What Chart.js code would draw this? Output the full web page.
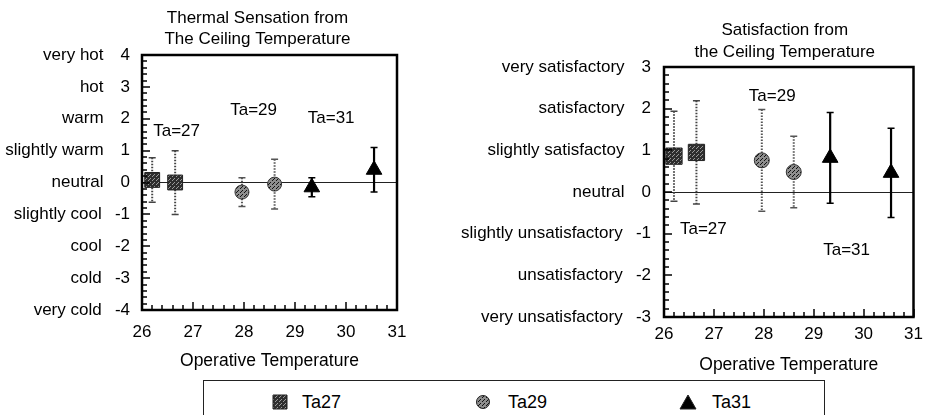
<!DOCTYPE html>
<html>
<head>
<meta charset="utf-8">
<script src="https://cdn.jsdelivr.net/npm/chart.js@4"></script>
<style>
    body { margin: 0; background: #fff; width: 926px; height: 415px; overflow: hidden; position: relative;
           font-family: "Liberation Sans", Arial, sans-serif; }
    #sensation { position: absolute; left: 0; top: 0; }
    #satisfaction { position: absolute; left: 460px; top: 0; }
    #legend { position: absolute; left: 203px; top: 380px; width: 622px; height: 45px;
              border: 1px solid #222; box-sizing: border-box; }
    .item { position: absolute; top: 11px; font-size: 18px; line-height: 20px; color: #000; }
    .item canvas { position: absolute; top: 1px; }
</style>
</head>
<body>
<canvas id="sensation" width="460" height="375"></canvas>
<canvas id="satisfaction" width="466" height="376"></canvas>
<div id="legend">
    <div class="item" style="left:98px"><canvas id="lg27" width="18" height="18" style="left:-31px"></canvas>Ta27</div>
    <div class="item" style="left:304px"><canvas id="lg29" width="18" height="18" style="left:-34px"></canvas>Ta29</div>
    <div class="item" style="left:508px"><canvas id="lg31" width="18" height="18" style="left:-33px"></canvas>Ta31</div>
</div>
<script>
// operative temperature of each test condition
const ta27Op = [26.2, 26.65];
const ta29Op = [27.96, 28.6];
const ta31Op = [29.33, 30.55];

// thermal sensation votes (mean and standard deviation)
const ta27Sens = [0.08, 0.0];
const ta27SensSd = [0.7, 1.0];
const ta29Sens = [-0.3, -0.05];
const ta29SensSd = [0.45, 0.78];
const ta31Sens = [-0.15, 0.4];
const ta31SensSd = [0.3, 0.7];

// satisfaction votes (mean and standard deviation)
const ta27Sat = [0.86, 0.95];
const ta27SatSd = [1.08, 1.24];
const ta29Sat = [0.76, 0.48];
const ta29SatSd = [1.22, 0.86];
const ta31Sat = [0.82, 0.46];
const ta31SatSd = [1.09, 1.07];

// axis scales
const opTicks = [26, 27, 28, 29, 30, 31];
const sensationTicks = [4, 3, 2, 1, 0, -1, -2, -3, -4];
const sensationLabels = ["very hot", "hot", "warm", "slightly warm", "neutral", "slightly cool", "cool", "cold", "very cold"];
const satisfactionTicks = [3, 2, 1, 0, -1, -2, -3];
const satisfactionLabels = ["very satisfactory", "satisfactory", "slightly satisfactoy", "neutral",
    "slightly unsatisfactory", "unsatisfactory", "very unsatisfactory"];

// "Ta=.." notes inside the plots
const noteTexts = ["Ta=27", "Ta=29", "Ta=31"];
const sensNoteX = [26.22, 27.73, 29.25];
const sensNoteY = [1.61, 2.27, 2.02];
const satNoteX = [26.32, 27.7, 29.19];
const satNoteY = [-0.89, 2.3, -1.41];

const FONT = "Liberation Sans";

// speckled fills like the printed markers
function speckle(bg, fg) {
    const c = document.createElement("canvas");
    c.width = c.height = 4;
    const g = c.getContext("2d");
    g.fillStyle = bg;
    g.fillRect(0, 0, 4, 4);
    g.fillStyle = fg;
    g.fillRect(0, 0, 1, 1);
    g.fillRect(2, 2, 1, 1);
    g.fillRect(1, 3, 1, 1);
    return g.createPattern(c, "repeat");
}
const squareFill = speckle("#2e2e2e", "#9a9a9a");
const circleFill = speckle("#8e8e8e", "#111");

function points(xs, ys) {
    return xs.map((x, i) => ({ x: x, y: ys[i] }));
}

function datasets(s27, sd27, s29, sd29, s31, sd31, big) {
    return [
        { label: "Ta27", data: points(ta27Op, s27), sd: sd27, pointStyle: "rect",
          pointRadius: big ? 11.5 : 10.5, backgroundColor: squareFill, borderColor: "#222", borderWidth: 1,
          barColor: "#444", barDash: [1.5, 1.5] },
        { label: "Ta29", data: points(ta29Op, s29), sd: sd29, pointStyle: "circle",
          pointRadius: big ? 7.5 : 7, backgroundColor: circleFill, borderColor: "#333", borderWidth: 1,
          barColor: "#555", barDash: [1.5, 1.5] },
        { label: "Ta31", data: points(ta31Op, s31), sd: sd31, pointStyle: "triangle",
          pointRadius: 9, backgroundColor: "#000", borderColor: "#000", borderWidth: 1,
          barColor: "#000", barDash: [] },
    ];
}

// error bars, frame, inward ticks, titles and notes
const decor = {
    id: "decor",
    beforeDatasetsDraw(chart) {
        const ctx = chart.ctx;
        const xs = chart.scales.x, ys = chart.scales.y;
        chart.data.datasets.forEach((ds) => {
            ds.data.forEach((p, i) => {
                const x = xs.getPixelForValue(p.x);
                const top = ys.getPixelForValue(p.y + ds.sd[i]);
                const bot = ys.getPixelForValue(p.y - ds.sd[i]);
                ctx.save();
                ctx.strokeStyle = ds.barColor;
                ctx.lineWidth = ds.barDash.length ? 2 : 2.2;
                ctx.setLineDash(ds.barDash);
                ctx.beginPath();
                ctx.moveTo(x, top);
                ctx.lineTo(x, bot);
                ctx.stroke();
                ctx.setLineDash([]);
                ctx.lineWidth = 1.5;
                ctx.beginPath();
                ctx.moveTo(x - 3.5, top);
                ctx.lineTo(x + 3.5, top);
                ctx.moveTo(x - 3.5, bot);
                ctx.lineTo(x + 3.5, bot);
                ctx.stroke();
                ctx.restore();
            });
        });
    },
    afterDraw(chart, args, opts) {
        const ctx = chart.ctx;
        const a = chart.chartArea;
        const xs = chart.scales.x, ys = chart.scales.y;
        ctx.save();
        ctx.setLineDash([]);
        ctx.strokeStyle = "#000";
        ctx.lineWidth = 1.5;
        // minor and major ticks pointing inward, every 0.2
        const yCount = (opts.yMax - opts.yMin) * 5;
        for (let i = 0; i <= yCount; i++) {
            const y = Math.round(ys.getPixelForValue(opts.yMin + i / 5));
            const len = i % 5 === 0 ? 8 : 5;
            ctx.beginPath();
            ctx.moveTo(a.left, y);
            ctx.lineTo(a.left + len, y);
            ctx.stroke();
        }
        const xCount = (opts.xMax - opts.xMin) * 5;
        for (let i = 0; i <= xCount; i++) {
            const x = Math.round(xs.getPixelForValue(opts.xMin + i / 5));
            const len = i % 5 === 0 ? 8 : 5;
            ctx.beginPath();
            ctx.moveTo(x, a.bottom);
            ctx.lineTo(x, a.bottom - len);
            ctx.stroke();
        }
        // frame
        ctx.lineWidth = 2.5;
        ctx.strokeRect(a.left, a.top, a.right - a.left, a.bottom - a.top);
        // title
        ctx.fillStyle = "#000";
        ctx.font = "17px '" + FONT + "'";
        ctx.textAlign = "center";
        ctx.textBaseline = "middle";
        const cx = (a.left + a.right) / 2 + opts.titleShift;
        opts.title.forEach((line, i) => {
            ctx.fillText(line, cx, opts.titleY[i]);
        });
        // notes
        ctx.textAlign = "left";
        noteTexts.forEach((t, i) => {
            ctx.fillText(t, xs.getPixelForValue(opts.noteX[i]), ys.getPixelForValue(opts.noteY[i]));
        });
        ctx.restore();
    },
};

function makeChart(id, cfg) {
    const yMin = Math.min(...cfg.yTicks);
    const yMax = Math.max(...cfg.yTicks);
    const xMin = Math.min(...opTicks);
    const xMax = Math.max(...opTicks);
    return new Chart(document.getElementById(id), {
        type: "scatter",
        data: { datasets: cfg.datasets },
        plugins: [decor],
        options: {
            responsive: false,
            animation: false,
            layout: { padding: cfg.padding },
            plugins: {
                legend: { display: false },
                tooltip: { enabled: false },
                decor: { title: cfg.title, titleY: cfg.titleY, titleShift: cfg.titleShift,
                         noteX: cfg.noteX, noteY: cfg.noteY,
                         xMin: xMin, xMax: xMax, yMin: yMin, yMax: yMax },
            },
            scales: {
                x: {
                    type: "linear",
                    min: xMin,
                    max: xMax,
                    afterBuildTicks: (s) => { s.ticks = opTicks.map((v) => ({ value: v })); },
                    ticks: { color: "#000", font: { family: FONT, size: 17 }, padding: cfg.xPad },
                    grid: { display: false },
                    border: { display: false },
                    title: { display: true, text: "Operative Temperature", color: "#000",
                             font: { family: FONT, size: 17.5 }, padding: { top: 2, bottom: cfg.titlePad } },
                    afterFit: (s) => { s.height = cfg.xHeight; },
                },
                y: {
                    min: yMin,
                    max: yMax,
                    afterBuildTicks: (s) => { s.ticks = cfg.yTicks.map((v) => ({ value: v })); },
                    ticks: {
                        color: "#000",
                        font: { family: FONT, size: 17 },
                        padding: cfg.yPad,
                        callback: (v) => cfg.yLabels[cfg.yTicks.indexOf(v)] + (v < 0 ? "\u2002 " : "\u2002\u2002") + v,
                    },
                    grid: {
                        drawTicks: false,
                        lineWidth: 1,
                        color: (c) => (c.tick && c.tick.value === 0 ? "#222" : "rgba(0,0,0,0)"),
                    },
                    border: { display: false },
                    afterFit: (s) => { s.width = cfg.yWidth; },
                },
            },
        },
    });
}

makeChart("sensation", {
    datasets: datasets(ta27Sens, ta27SensSd, ta29Sens, ta29SensSd, ta31Sens, ta31SensSd, false),
    padding: { top: 55, right: 63, bottom: 0, left: 0 },
    yTicks: sensationTicks,
    yLabels: sensationLabels,
    yWidth: 142,
    yPad: 12,
    xHeight: 65,
    xPad: 4,
    titlePad: 3,
    title: ["Thermal Sensation from", "The Ceiling Temperature"],
    titleY: [18, 39],
    titleShift: -12,
    noteX: sensNoteX,
    noteY: sensNoteY,
});

makeChart("satisfaction", {
    datasets: datasets(ta27Sat, ta27SatSd, ta29Sat, ta29SatSd, ta31Sat, ta31SatSd, true),
    padding: { top: 67, right: 9, bottom: 0, left: 0 },
    yTicks: satisfactionTicks,
    yLabels: satisfactionLabels,
    yWidth: 204,
    yPad: 13,
    xHeight: 59,
    xPad: -1,
    titlePad: 0,
    title: ["Satisfaction from", "the Ceiling Temperature"],
    titleY: [30, 52],
    titleShift: -4,
    noteX: satNoteX,
    noteY: satNoteY,
});

// legend markers
function legendMark(id, shape, fill) {
    const g = document.getElementById(id).getContext("2d");
    g.fillStyle = fill;
    g.strokeStyle = "#222";
    g.beginPath();
    if (shape === "rect") {
        g.rect(2, 2, 14, 14);
    } else if (shape === "circle") {
        g.arc(9, 9, 6.5, 0, Math.PI * 2);
    } else {
        g.moveTo(9, 2);
        g.lineTo(17, 16);
        g.lineTo(1, 16);
        g.closePath();
    }
    g.fill();
    g.stroke();
}
legendMark("lg27", "rect", squareFill);
legendMark("lg29", "circle", circleFill);
legendMark("lg31", "triangle", "#000");
</script>
</body>
</html>
